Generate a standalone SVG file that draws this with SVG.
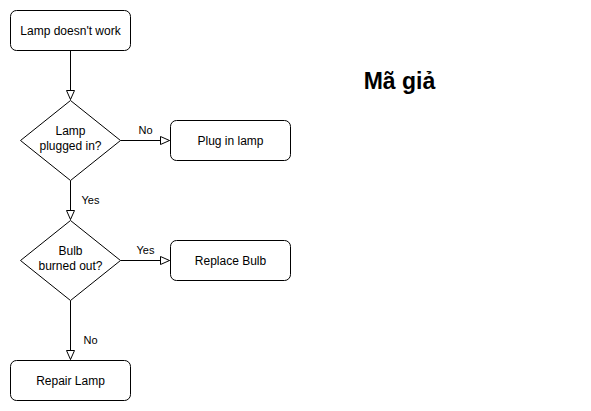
<svg xmlns="http://www.w3.org/2000/svg" width="591" height="411" viewBox="0 0 591 411">
<defs>
<marker id="arr" markerWidth="12" markerHeight="12" refX="10" refY="5" orient="auto" markerUnits="userSpaceOnUse" viewBox="0 0 12 10">
<path d="M1,1 L10,5 L1,9 Z" fill="#fff" stroke="#000" stroke-width="1"/>
</marker>
<style>
.n{fill:#fff;stroke:#000;stroke-width:1}
.t{font-family:"Liberation Sans",Arial,sans-serif;font-size:12px;fill:#000;text-anchor:middle}
.e{fill:none;stroke:#000;stroke-width:1}
.l{font-family:"Liberation Sans",Arial,sans-serif;font-size:11px;fill:#000;text-anchor:middle}
</style>
</defs>
<rect width="591" height="411" fill="#fff"/>
<g id="connectors">
<path class="e" d="M70.5,50.5 V99.5" marker-end="url(#arr)"/>
<path class="e" d="M120.5,140.5 H169.5" marker-end="url(#arr)"/>
<path class="e" d="M70.5,180.5 V219.5" marker-end="url(#arr)"/>
<path class="e" d="M120.5,260.5 H169.5" marker-end="url(#arr)"/>
<path class="e" d="M70.5,300.5 V359.5" marker-end="url(#arr)"/>
<text class="l" x="145.5" y="134">No</text>
<text class="l" x="90.5" y="204">Yes</text>
<text class="l" x="145.5" y="254">Yes</text>
<text class="l" x="90.5" y="344">No</text>
</g>
<g id="start">
<rect class="n" x="10.5" y="10.5" width="120" height="40" rx="6"/>
<text class="t" x="70.5" y="34.5">Lamp doesn't work</text>
</g>
<g id="q1">
<path class="n" d="M70.5,100.5 L120.5,140.5 L70.5,180.5 L20.5,140.5 Z"/>
<text class="t" x="70.5" y="135">Lamp</text>
<text class="t" x="70.5" y="150">plugged in?</text>
</g>
<g id="plug">
<rect class="n" x="170.5" y="120.5" width="120" height="40" rx="6"/>
<text class="t" x="230.5" y="144.5">Plug in lamp</text>
</g>
<g id="q2">
<path class="n" d="M70.5,220.5 L120.5,260.5 L70.5,300.5 L20.5,260.5 Z"/>
<text class="t" x="70.5" y="255">Bulb</text>
<text class="t" x="70.5" y="270">burned out?</text>
</g>
<g id="replace">
<rect class="n" x="170.5" y="240.5" width="120" height="40" rx="6"/>
<text class="t" x="230.5" y="264.5">Replace Bulb</text>
</g>
<g id="repair">
<rect class="n" x="10.5" y="360.5" width="120" height="40" rx="6"/>
<text class="t" x="70.5" y="384.5">Repair Lamp</text>
</g>
<g id="title">
<text x="399.5" y="89" font-family="'Liberation Sans',Arial,sans-serif" font-size="23" font-weight="bold" text-anchor="middle" fill="#000">Mã giả</text>
</g>
</svg>
